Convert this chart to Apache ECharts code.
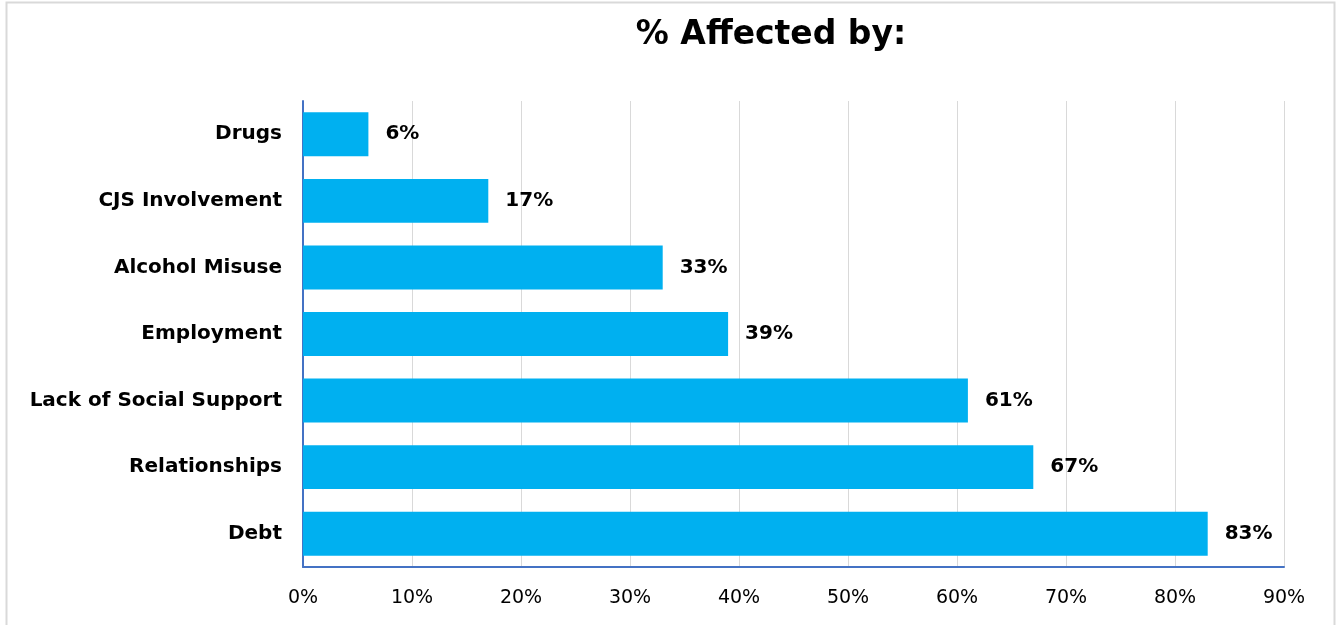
<!DOCTYPE html>
<html>
<head>
<meta charset="utf-8">
<script src="https://cdn.jsdelivr.net/npm/echarts@6/dist/echarts.min.js"></script>
<style>
  html, body { margin: 0; padding: 0; background: #fff; }
  #chart { width: 1343px; height: 625px; }
</style>
</head>
<body>
<div id="chart"></div>
<script>
// Share of clients affected by each issue (top to bottom as drawn)
const categories = ['Drugs', 'CJS Involvement', 'Alcohol Misuse', 'Employment', 'Lack of Social Support', 'Relationships', 'Debt'];
const values = [6, 17, 33, 39, 61, 67, 83];
const xTicks = [0, 10, 20, 30, 40, 50, 60, 70, 80, 90];

const FONT = '"DejaVu Sans", "Noto Sans", sans-serif';

const chart = echarts.init(document.getElementById('chart'), null, { renderer: 'canvas' });

chart.setOption({
  backgroundColor: '#ffffff',
  animation: false,
  title: {
    text: '% Affected by:',
    left: 766,
    top: 14,
    textAlign: 'center',
    textStyle: { fontFamily: FONT, fontWeight: 'bold', fontSize: 33, color: '#000' }
  },
  graphic: [{
    type: 'rect',
    shape: { x: 6.5, y: 2.5, width: 1328, height: 640 },
    style: { fill: 'none', stroke: '#d9d9d9', lineWidth: 2 },
    silent: true
  }],
  grid: { left: 303, right: 59, top: 101, bottom: 58, containLabel: false },
  xAxis: {
    type: 'value',
    min: xTicks[0],
    max: xTicks[xTicks.length - 1],
    interval: 10,
    axisLine: { show: true, lineStyle: { color: '#4472c4', width: 2 } },
    axisTick: { show: false },
    splitLine: { show: true, lineStyle: { color: '#d9d9d9', width: 1 } },
    axisLabel: {
      formatter: v => v + '%',
      fontFamily: FONT, fontSize: 19, color: '#000', margin: 22
    }
  },
  yAxis: {
    type: 'category',
    data: categories,
    inverse: true,
    axisLine: { show: true, lineStyle: { color: '#4472c4', width: 2 } },
    axisTick: { show: false },
    axisLabel: {
      fontFamily: FONT, fontWeight: 'bold', fontSize: 20, color: '#000', margin: 21
    }
  },
  series: [{
    type: 'bar',
    data: values,
    barCategoryGap: '34%',
    itemStyle: { color: '#00b0f0' },
    label: {
      show: true,
      position: 'right',
      distance: 17,
      formatter: p => p.value + '%',
      fontFamily: FONT, fontWeight: 'bold', fontSize: 20, color: '#000'
    }
  }]
});
</script>
</body>
</html>
